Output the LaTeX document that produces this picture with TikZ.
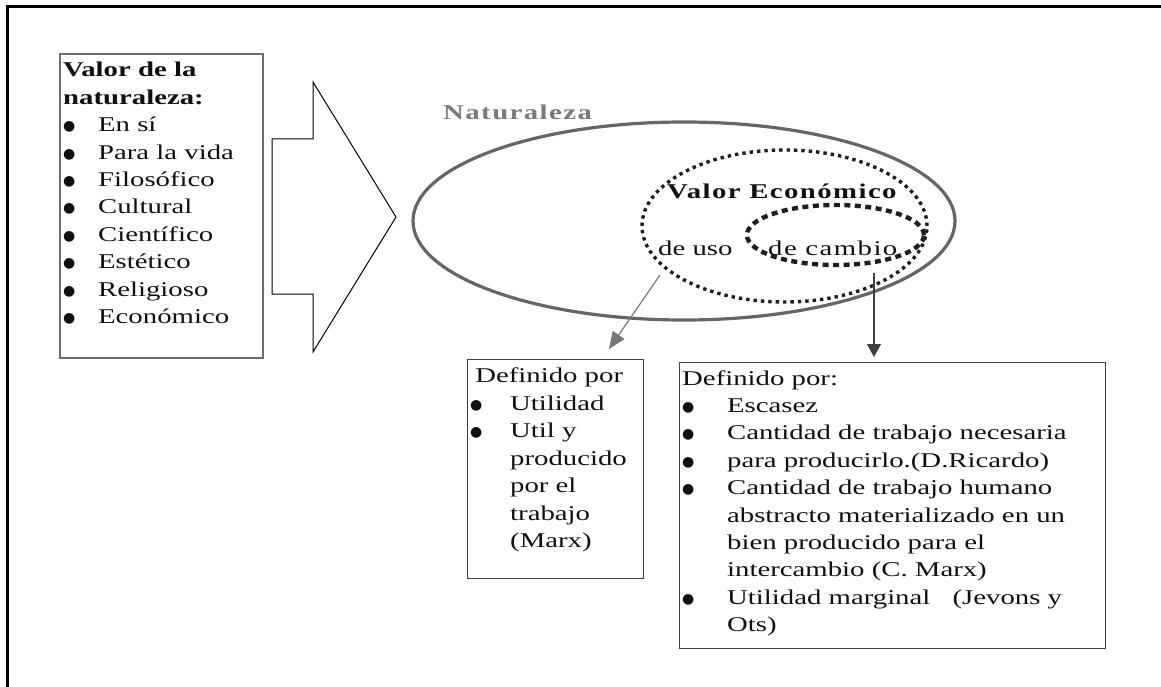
\documentclass[tikz,border=0pt]{standalone}
\usepackage{fontspec}
\usepackage{graphicx}
\setmainfont{Liberation Serif}
\newfontfamily\spacedfont{Liberation Serif}[LetterSpace=5]
\newfontfamily\symfont{DejaVu Sans}
\usetikzlibrary{shapes.geometric, arrows.meta}

\definecolor{ink}{HTML}{101010}
\definecolor{framegray}{HTML}{6E6E6E}
\definecolor{natgray}{HTML}{666666}
\definecolor{labelgray}{HTML}{7A7A7A}
\definecolor{dotink}{HTML}{1E1E1E}
\definecolor{arrowgray}{HTML}{777777}
\definecolor{arrowdark}{HTML}{404040}

% wide text: the whole block is stretched horizontally
\newcommand\widetext[1]{\scalebox{1.37}[1]{\begin{tabular}[t]{@{}l@{}}#1\end{tabular}}}
% round bullet set in a fixed-width slot (width given before stretching)
\newcommand\bul[1]{\makebox[#1][l]{\raisebox{1pt}{\scalebox{0.73}[1]{\fontsize{14}{14}\symfont ●}}}}

\tikzset{
  txt/.style={anchor=base west, inner sep=0pt, text=ink,
    font=\fontsize{21}{27.4}\selectfont},
  listbox/.style={draw=framegray, line width=1.8pt, anchor=north west,
    inner sep=0pt},
  defbox/.style={draw=arrowdark, line width=1.2pt, anchor=north west,
    inner sep=0pt},
  natring/.style={ellipse, draw=natgray, line width=3.2pt, inner sep=0pt},
  econring/.style={ellipse, draw=dotink, line width=3.4pt,
    dash pattern=on 3.4pt off 4pt, inner sep=0pt},
  cambring/.style={ellipse, draw=dotink, line width=4.4pt,
    dash pattern=on 6pt off 4.5pt, inner sep=0pt},
  link/.style={line width=1.2pt},
}

\begin{document}
\begin{tikzpicture}[x=1pt, y=-1pt]
\useasboundingbox (0,0) rectangle (1161,687);

% frame (top and left edges)
\draw[line width=3pt, black] (7.5,687) -- (7.5,6.5) -- (1161,6.5);

% list of values of nature
\node[listbox, minimum width=203pt, minimum height=304pt] (vals) at (59,53) {};
\node[txt] (valstext) at (63,77)
  {\widetext{\bfseries Valor de la\\\bfseries naturaleza:\\
   \bul{25.5pt}En sí\\
   \bul{25.5pt}Para la vida\\
   \bul{25.5pt}Filosófico\\
   \bul{25.5pt}Cultural\\
   \bul{25.5pt}Científico\\
   \bul{25.5pt}Estético\\
   \bul{25.5pt}Religioso\\
   \bul{25.5pt}Económico}};

% block arrow
\draw[line width=1pt, black, line join=miter]
  (272,139) -- (313,139) -- (313,82) -- (396,217) -- (313,352)
  -- (313,294) -- (272,294) -- cycle;

% nested ellipses
\node[natring, minimum width=542pt, minimum height=198pt] (nat) at (684,221) {};
\node[econring, minimum width=285pt, minimum height=152pt] (econ) at (784.5,226) {};
\node[cambring, minimum width=177pt, minimum height=60pt] (camb) at (835.5,235) {};

\node[txt, text=labelgray] (natlabel) at (443,120)
  {\widetext{\spacedfont\bfseries Naturaleza}};
\node[txt] (econlabel) at (667,198) {\widetext{\spacedfont\bfseries Valor Económico}};
\node[txt] (uso) at (658,255) {\widetext{de uso}};
\node[txt] (cambio) at (768,255) {\widetext{\spacedfont de cambio}};

% definition boxes
\node[defbox, minimum width=176pt, minimum height=219pt] (usebox) at (467,359) {};
\node[txt] (usetext) at (470,382)
  {\widetext{\hspace*{3.7pt}Definido por\\[1pt]
   \bul{29.2pt}Utilidad\\
   \bul{29.2pt}Util y\\
   \hspace*{29.2pt}producido\\
   \hspace*{29.2pt}por el\\
   \hspace*{29.2pt}trabajo\\
   \hspace*{29.2pt}(Marx)}};

\node[defbox, minimum width=426pt, minimum height=286pt] (xbox) at (679,362) {};
\node[txt] (xtext) at (682,385)
  {\widetext{Definido por:\\
   \bul{32.8pt}Escasez\\
   \bul{32.8pt}Cantidad de trabajo necesaria\\
   \bul{32.8pt}para producirlo.(D.Ricardo)\\
   \bul{32.8pt}Cantidad de trabajo humano\\
   \hspace*{32.8pt}abstracto materializado en un\\
   \hspace*{32.8pt}bien producido para el\\
   \hspace*{32.8pt}intercambio (C. Marx)\\
   \bul{32.8pt}Utilidad marginal\hspace{11pt} (Jevons y\\
   \hspace*{32.8pt}Ots)}};

% connectors
\coordinate (usofrom) at (660,275);
\coordinate (usoto) at (609,349);
\coordinate (cambfrom) at (874,273);
\coordinate (cambto) at (874,357);
\draw[link, arrowgray, -{Triangle[length=17pt, width=14pt]}] (usofrom) -- (usoto);
\draw[link, arrowdark, -{Triangle[length=13pt, width=14pt]}] (cambfrom) -- (cambto);
\end{tikzpicture}
\end{document}
